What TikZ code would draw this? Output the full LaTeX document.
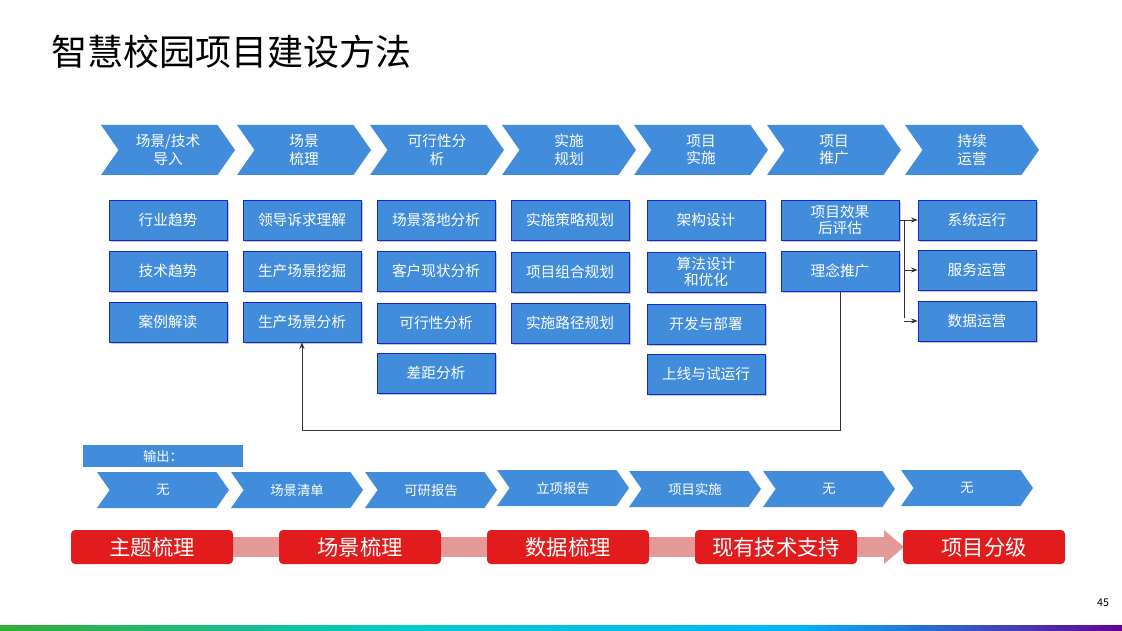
\documentclass[tikz,border=0pt]{standalone}
\usepackage{fontspec}
\setmainfont{Noto Sans CJK SC}
\usetikzlibrary{shapes.symbols,arrows.meta,shadows}
\definecolor{stepblue}{RGB}{65,141,219}
\definecolor{edgeblue}{RGB}{20,40,200}
\definecolor{redbox}{RGB}{226,28,28}
\definecolor{pinkband}{RGB}{229,154,154}
\tikzset{
	phase/.style={signal,signal to=east,signal from=west,signal pointer angle=110,
		fill=stepblue,text=white,minimum width=134*0.75pt,minimum height=50*0.75pt,
		inner sep=0pt,align=center,font=\fontsize{11}{13}\selectfont},
	outphase/.style={phase,minimum width=132*0.75pt,minimum height=36*0.75pt,
		font=\fontsize{10}{12}\selectfont},
	task/.style={draw=edgeblue,fill=stepblue,text=white,minimum width=118*0.75pt,
		minimum height=40*0.75pt,inner sep=1pt,align=center,
		font=\fontsize{11}{12}\selectfont,
		drop shadow={shadow xshift=1.5pt,shadow yshift=-1.5pt,fill=black!45}},
	stage/.style={fill=redbox,rounded corners=3pt,text=white,minimum width=162*0.75pt,
		minimum height=34*0.75pt,font=\fontsize{16}{18}\selectfont},
	link/.style={draw=black!80,line width=0.7pt,-{Stealth[length=5pt]}}
}
\begin{document}
\begin{tikzpicture}[x=0.75pt,y=-0.75pt]
	\useasboundingbox (0,0) rectangle (1122,631);
	\node[anchor=west,font=\fontsize{27}{30}\selectfont] (title) at (47,52) {智慧校园项目建设方法};

	% phases
	\node[phase] (p1) at (168,150) {场景/技术\\导入};
	\node[phase] (p2) at (304,150) {场景\\梳理};
	\node[phase] (p3) at (437,150) {可行性分\\析};
	\node[phase] (p4) at (569,150) {实施\\规划};
	\node[phase] (p5) at (701,150) {项目\\实施};
	\node[phase] (p6) at (834,150) {项目\\推广};
	\node[phase] (p7) at (972,150) {持续\\运营};

	% tasks
	\node[task] (a1) at (168,220) {行业趋势};
	\node[task] (a2) at (168,271) {技术趋势};
	\node[task] (a3) at (168,322) {案例解读};
	\node[task] (b1) at (302,220) {领导诉求理解};
	\node[task] (b2) at (302,271) {生产场景挖掘};
	\node[task] (b3) at (302,322) {生产场景分析};
	\node[task] (c1) at (436,220) {场景落地分析};
	\node[task] (c2) at (436,271) {客户现状分析};
	\node[task] (c3) at (436,323) {可行性分析};
	\node[task] (c4) at (436,373) {差距分析};
	\node[task] (d1) at (570,220) {实施策略规划};
	\node[task] (d2) at (570,272) {项目组合规划};
	\node[task] (d3) at (570,323) {实施路径规划};
	\node[task] (e1) at (706,220) {架构设计};
	\node[task] (e2) at (706,272) {算法设计\\和优化};
	\node[task] (e3) at (706,324) {开发与部署};
	\node[task] (e4) at (706,374) {上线与试运行};
	\node[task] (f1) at (840,220) {项目效果\\后评估};
	\node[task] (f2) at (840,271) {理念推广};
	\node[task] (g1) at (977,220) {系统运行};
	\node[task] (g2) at (977,270) {服务运营};
	\node[task] (g3) at (977,321) {数据运营};

	\coordinate (fork) at (904,220);
	\draw[link] (f2.south) |- (302,430) -- (b3.south);
	\draw[link] (f1.east) -- (g1.west);
	\draw[draw=black!80,line width=0.7pt] (fork) -- (904,318);
	\draw[link] (fork |- g2) -- (g2.west);
	\draw[link] (fork |- g3) -- (g3.west);

	% outputs
	\node[fill=stepblue,minimum width=160*0.75pt,minimum height=22*0.75pt,text=white,
		font=\fontsize{10}{11}\selectfont] (out) at (163,456) {输出：};
	\node[outphase] (o1) at (163,490) {无};
	\node[outphase] (o2) at (297,490) {场景清单};
	\node[outphase] (o3) at (431,490) {可研报告};
	\node[outphase] (o4) at (563,488) {立项报告};
	\node[outphase] (o5) at (695,489) {项目实施};
	\node[outphase] (o6) at (829,489) {无};
	\node[outphase] (o7) at (967,488) {无};

	% stages
	\fill[pinkband] (152,537) rectangle (886,557);
	\fill[pinkband] (884,530) -- (904,547) -- (884,564) -- cycle;
	\node[stage] (s1) at (152,547) {主题梳理};
	\node[stage] (s2) at (360,547) {场景梳理};
	\node[stage] (s3) at (568,547) {数据梳理};
	\node[stage] (s4) at (776,547) {现有技术支持};
	\node[stage] (s5) at (984,547) {项目分级};

	\node[font=\fontsize{8}{10}\selectfont] (page) at (1103,603) {45};
	\shade[left color=green!60!black!80,right color=cyan!70!blue,middle color=cyan!80!black]
		(0,625) rectangle (800,631);
	\shade[left color=cyan!70!blue,right color=violet!80!blue] (799,625) rectangle (1122,631);
\end{tikzpicture}
\end{document}
